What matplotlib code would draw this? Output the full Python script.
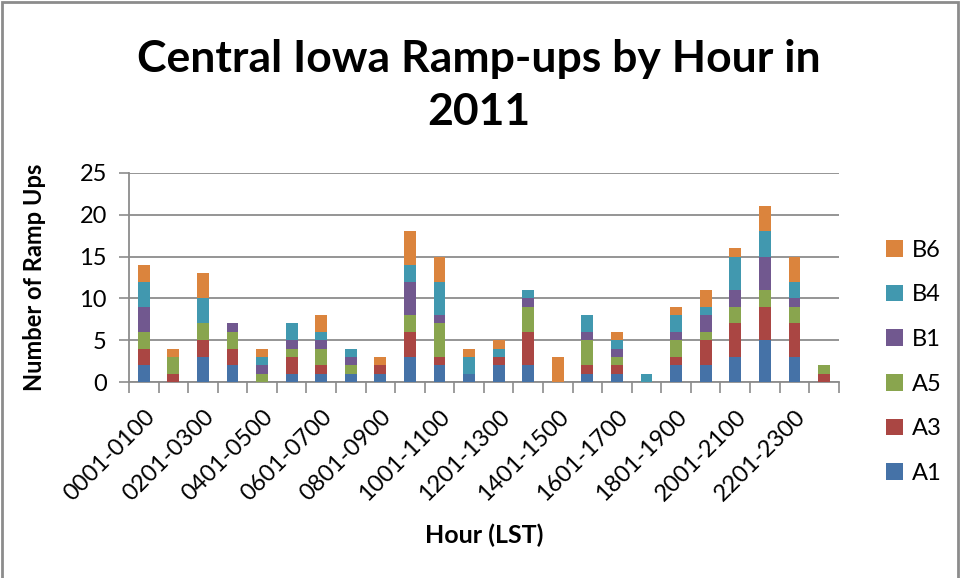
import numpy as np
import matplotlib
matplotlib.use('Agg')
import matplotlib.pyplot as plt
from matplotlib.patches import Rectangle

plt.rcParams['font.family'] = ['Lato', 'DejaVu Sans']

# hour bins (LST)
hours = ['0001-0100', '0101-0200', '0201-0300', '0301-0400', '0401-0500', '0501-0600',
         '0601-0700', '0701-0800', '0801-0900', '0901-1000', '1001-1100', '1101-1200',
         '1201-1300', '1301-1400', '1401-1500', '1501-1600', '1601-1700', '1701-1800',
         '1801-1900', '1901-2000', '2001-2100', '2101-2200', '2201-2300', '2301-2400']

# ramp-up counts per site
A1 = [2, 0, 3, 2, 0, 1, 1, 1, 1, 3, 2, 1, 2, 2, 0, 1, 1, 0, 2, 2, 3, 5, 3, 0]
A3 = [2, 1, 2, 2, 0, 2, 1, 0, 1, 3, 1, 0, 1, 4, 0, 1, 1, 0, 1, 3, 4, 4, 4, 1]
A5 = [2, 2, 2, 2, 1, 1, 2, 1, 0, 2, 4, 0, 0, 3, 0, 3, 1, 0, 2, 1, 2, 2, 2, 1]
B1 = [3, 0, 0, 1, 1, 1, 1, 1, 0, 4, 1, 0, 0, 1, 0, 1, 1, 0, 1, 2, 2, 4, 1, 0]
B4 = [3, 0, 3, 0, 1, 2, 1, 1, 0, 2, 4, 2, 1, 1, 0, 2, 1, 1, 2, 1, 4, 3, 2, 0]
B6 = [2, 1, 3, 0, 1, 0, 2, 0, 1, 4, 3, 1, 1, 0, 3, 0, 1, 0, 1, 2, 1, 3, 3, 0]

series = [('A1', A1, '#4572A7'), ('A3', A3, '#AA4643'), ('A5', A5, '#89A54E'),
          ('B1', B1, '#71588F'), ('B4', B4, '#4198AF'), ('B6', B6, '#DB843D')]

fig = plt.figure(figsize=(9.63, 5.78), dpi=100)
ax = fig.add_axes([0.134, 0.339, 0.737, 0.362])

x = np.arange(len(hours))
bottom = np.zeros(len(hours))
handles = []
for name, vals, col in series:
    b = ax.bar(x, vals, 0.4, bottom=bottom, color=col, label=name, zorder=3)
    handles.append(b)
    bottom += np.array(vals)

ax.set_xlim(-0.5, len(hours) - 0.5)
ax.set_ylim(0, 25)
ax.set_yticks(range(0, 26, 5))
ax.yaxis.grid(True, color='#8c8c8c', linewidth=1.3, zorder=0)

# category separators as ticks, labels on every other bar
ax.set_xticks(np.arange(-0.5, len(hours), 1.0))
ax.set_xticklabels([])
ax.set_xticks(x[::2], minor=True)
ax.set_xticklabels(hours[::2], minor=True, rotation=45, ha='right',
                   rotation_mode='anchor', fontsize=17)
ax.tick_params(axis='x', which='major', length=8, color='#8c8c8c', width=1.2)
ax.tick_params(axis='x', which='minor', length=0, pad=17)
ax.tick_params(axis='y', length=7, color='#8c8c8c', width=1.2, labelsize=17, pad=9)

for side in ['top', 'right']:
    ax.spines[side].set_visible(False)
for side in ['left', 'bottom']:
    ax.spines[side].set_color('#8c8c8c')
    ax.spines[side].set_linewidth(1.3)

ax.set_ylabel('Number of Ramp Ups', fontsize=17, fontweight='bold', labelpad=24)
ax.set_xlabel('Hour (LST)', fontsize=18, fontweight='bold', labelpad=14)

fig.text(0.497, 0.898, 'Central Iowa Ramp-ups by Hour in', ha='center', va='center',
         fontsize=32, fontweight='bold')
fig.text(0.497, 0.807, '2011', ha='center', va='center', fontsize=32, fontweight='bold')

fig.legend(handles[::-1], [s[0] for s in series][::-1], loc='center left',
           bbox_to_anchor=(0.898, 0.374), frameon=False, fontsize=17,
           handlelength=0.7, handleheight=0.7, handletextpad=0.4, labelspacing=1.0)

fig.patches.append(Rectangle((0.002, -0.02), 0.993, 1.017, transform=fig.transFigure,
                             fill=False, edgecolor='#8c8c8c', linewidth=2))

fig.savefig('out.png', dpi=100)
